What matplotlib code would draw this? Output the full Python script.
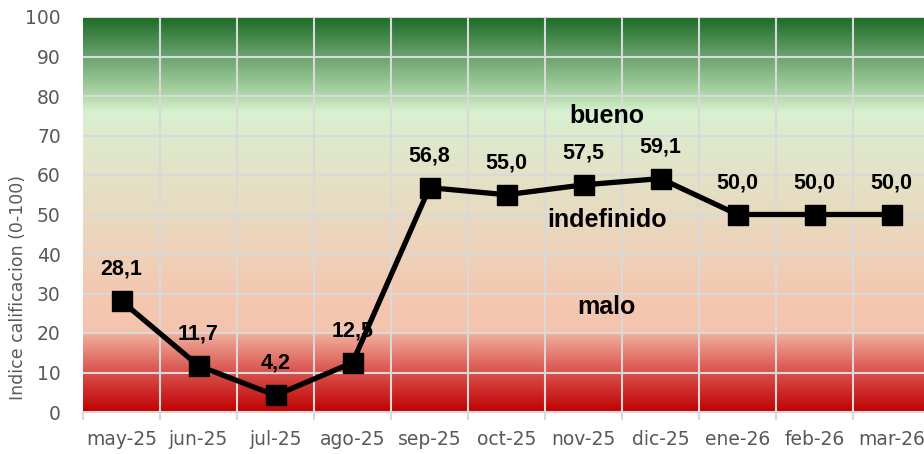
import numpy as np
import matplotlib
matplotlib.use("Agg")
import matplotlib.pyplot as plt
from matplotlib.colors import to_rgb

categories = ["may-25", "jun-25", "jul-25", "ago-25", "sep-25", "oct-25",
              "nov-25", "dic-25", "ene-26", "feb-26", "mar-26"]
values = [28.1, 11.7, 4.2, 12.5, 56.8, 55.0, 57.5, 59.1, 50.0, 50.0, 50.0]
y_ticks = [0, 10, 20, 30, 40, 50, 60, 70, 80, 90, 100]
zones = [("bueno", 75.0), ("indefinido", 48.5), ("malo", 26.5)]

# background gradient colour stops (value, colour)
stops = [(0, "#C00000"), (10, "#D8514C"), (19.9, "#F1B09D"), (20.0, "#F5C4AE"),
         (30, "#F4C8B1"), (50, "#E8DAC0"), (70, "#DEEACD"), (76, "#D8F1D0"),
         (80, "#B2D9AA"), (90, "#6AA370"), (100, "#1D6B25")]

fig = plt.figure(figsize=(9.24, 4.54), dpi=100)
ax = fig.add_axes([83 / 924, 42 / 454, 847 / 924, 395 / 454])

n = len(categories)
x = np.arange(n)
ax.set_xlim(-0.5, n - 0.5)
ax.set_ylim(0, 100)

# gradient image
yy = np.linspace(0, 100, 1000)
sv = np.array([s[0] for s in stops])
sc = np.array([to_rgb(s[1]) for s in stops])
img = np.stack([np.interp(yy, sv, sc[:, k]) for k in range(3)], axis=-1)
img = np.repeat(img[:, None, :], 2, axis=1)
ax.imshow(img, origin="lower", extent=(-0.5, n - 0.5, 0, 100),
          aspect="auto", zorder=0, interpolation="bilinear")

# grid
grid_c = "#D9D9D9"
for yv in y_ticks[1:]:
    ax.axhline(yv, color=grid_c, lw=1.5, zorder=1)
for b in np.arange(0.5, n - 0.5, 1.0):
    ax.axvline(b, color=grid_c, lw=1.5, zorder=1)

for s in ["top", "right", "left"]:
    ax.spines[s].set_visible(False)
ax.spines["bottom"].set_color(grid_c)
ax.spines["bottom"].set_linewidth(1.5)

ax.set_yticks(y_ticks)
ax.set_yticklabels([str(v) for v in y_ticks])
ax.tick_params(axis="y", length=0, pad=16, labelsize=13.5, labelcolor="#595959")
ax.set_xticks(x)
ax.set_xticklabels(categories)
ax.tick_params(axis="x", length=0, pad=13, labelsize=13.5, labelcolor="#595959")
# boundary tick marks below axis
ax.set_xticks(np.arange(-0.5, n, 1.0), minor=True)
ax.tick_params(axis="x", which="minor", length=6, width=1.5, color=grid_c)

fig.text(18 / 924, 1 - 287 / 454, "Indice calificacion (0-100)", rotation=90,
         ha="center", va="center", fontsize=12.5, color="#595959")

ax.plot(x, values, color="black", lw=3.8, marker="s", markersize=15,
        zorder=5)

for xi, v in zip(x, values):
    ax.annotate(f"{v:.1f}".replace(".", ","), (xi, v), xytext=(0, 23),
                textcoords="offset points", ha="center", va="center",
                fontsize=15.5, fontweight="bold", family="Liberation Sans",
                zorder=4)

for txt, yv in zones:
    ax.text(6.3, yv, txt, ha="center", va="center", fontsize=18,
            fontweight="bold", family="Liberation Sans", zorder=4)

fig.savefig("out.png", dpi=100)
